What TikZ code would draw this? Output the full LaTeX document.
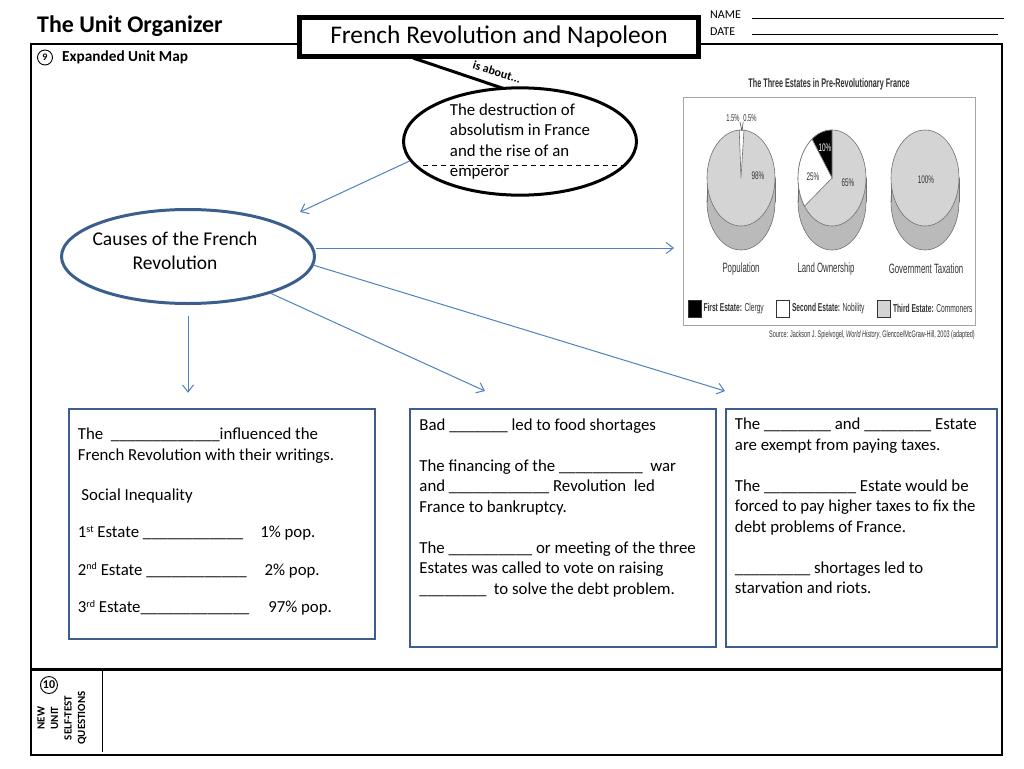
\documentclass[tikz,border=0pt]{standalone}
\usepackage{fontspec}
\setmainfont{Carlito}
\newfontfamily\chartfont[FakeStretch=0.58]{Liberation Sans}
\usetikzlibrary{positioning,shapes.geometric,arrows.meta}

\definecolor{boxblue}{HTML}{3B5E8C}
\definecolor{arrowblue}{HTML}{4F81BD}
\definecolor{pietop}{HTML}{D4D4D4}
\definecolor{pieside}{HTML}{BABABA}
\definecolor{piegrey}{HTML}{707070}
\definecolor{chartgray}{HTML}{333333}

\newcommand{\blank}[1]{\foreach \n in {1,...,#1}{\_}}
\newcommand{\ordsup}[1]{\raisebox{5.5pt}{\fontsize{10}{10}\selectfont #1}}

\begin{document}
\begin{tikzpicture}[
    x=1pt, y=-1pt,
    txt/.style={
        inner sep=0pt, align=left,
        font=\fontsize{16.8}{20.5}\selectfont
    },
    mapbox/.style={
        rectangle, draw=boxblue, line width=2.5pt, inner sep=0pt
    },
    arr/.style={-{Straight Barb[length=7pt,width=11pt]}, arrowblue, line width=1pt},
    num/.style={
        circle, draw, line width=0.9pt, inner sep=0pt,
        minimum size=15pt, font=\bfseries\fontsize{10}{10}\selectfont
    },
    chart/.style={inner sep=0pt, text=chartgray, font=\chartfont\fontsize{11}{11}\selectfont},
    pielabel/.style={chart, font=\chartfont\fontsize{13.5}{14}\selectfont},
    legendsq/.style={draw=chartgray, line width=0.6pt, minimum width=13pt, minimum height=17pt, inner sep=0pt},
    legendtext/.style={chart, font=\chartfont\fontsize{11.5}{12}\selectfont}
]

\useasboundingbox (0,0) rectangle (1024,768);

\draw[line width=2.5pt] (31,44) rectangle (1002,755);
\draw[line width=3pt] (31,669) -- (1002,669);
\draw[line width=1pt] (102,669) -- (102,752);

\node[anchor=base west, inner sep=0pt, font=\bfseries\fontsize{23.9}{26}\selectfont] (organizer) at (37,33) {The Unit Organizer};
\node[draw, line width=5pt, fill=white, minimum width=399pt, minimum height=39pt, inner sep=0pt,
      font=\fontsize{25.4}{28}\selectfont] (unit) at (499,37) {French Revolution and Napoleon};

\node[anchor=base west, inner sep=0pt, font=\fontsize{12}{12}\selectfont] (name) at (710,19) {NAME};
\node[anchor=base west, inner sep=0pt, font=\fontsize{12}{12}\selectfont] (date) at (710,36) {DATE};
\draw[line width=0.8pt] (752,18) -- (1004,18);
\draw[line width=0.8pt] (752,34) -- (998,34);

\node[num] (n9) at (45,57.5) {9};
\node[right=9pt of n9, inner sep=0pt, font=\bfseries\fontsize{15.3}{16}\selectfont] (mapname) {Expanded Unit Map};

\coordinate (tail) at (413,58);
\draw[line width=3pt] (tail) -- (508,90);
\node[rotate=-17, inner sep=0pt, font=\bfseries\fontsize{12}{12}\selectfont] (about) at (497,72) {is about...};

\node[txt, ellipse, draw, line width=3pt, fill=white, minimum width=233pt, minimum height=104pt] (destr) at (520,141.5)
    {The destruction of\\absolutism in France\\and the rise of an\\emperor};
\draw[dashed, dash pattern=on 5pt off 4pt, line width=0.8pt] (423,165) -- (622,165);

\node[ellipse, draw=boxblue, line width=3pt, minimum width=253pt, minimum height=94pt, inner sep=0pt] (causes) at (188,256.5) {};
\node[align=center, inner sep=0pt, font=\fontsize{19.5}{24}\selectfont] (causestext) at (175,251) {Causes of the French\\Revolution};

\node[draw=gray!70, line width=0.8pt, minimum width=292pt, minimum height=228pt, inner sep=0pt] (chartbox) at (829,211) {};
\node[chart, font=\chartfont\bfseries\fontsize{12.5}{13}\selectfont] (charttitle) at (829,84) {The Three Estates in Pre-Revolutionary France};

\coordinate (popu) at (741,178);
\coordinate (land) at (832,178);
\coordinate (taxes) at (925,178);
\foreach \piename in {popu,land,taxes}{
    \fill[pieside, draw=piegrey, line width=0.6pt] ([yshift=-24pt]\piename) ellipse[x radius=34pt, y radius=48pt];
    \fill[pieside] ([xshift=-34pt]\piename) rectangle ([xshift=34pt,yshift=-24pt]\piename);
    \draw[piegrey, line width=0.6pt] ([xshift=-34pt]\piename) -- ([xshift=-34pt,yshift=-24pt]\piename)
        ([xshift=34pt]\piename) -- ([xshift=34pt,yshift=-24pt]\piename);
    \fill[pietop, draw=piegrey, line width=0.6pt] (\piename) ellipse[x radius=34pt, y radius=48pt];
}
\filldraw[fill=white, draw=piegrey, line width=0.6pt] (popu) -- ++(85:34pt and 48pt)
    arc[start angle=85, end angle=93, x radius=34pt, y radius=48pt] -- cycle;
\filldraw[fill=black, draw=piegrey, line width=0.6pt] (land) -- ++(90:34pt and 48pt)
    arc[start angle=90, end angle=126, x radius=34pt, y radius=48pt] -- cycle;
\filldraw[fill=white, draw=piegrey, line width=0.6pt] (land) -- ++(126:34pt and 48pt)
    arc[start angle=126, end angle=216, x radius=34pt, y radius=48pt] -- cycle;

\node[chart, font=\chartfont\fontsize{10}{10}\selectfont] (pct15) at (733,118) {1.5\%};
\node[chart, font=\chartfont\fontsize{10}{10}\selectfont] (pct05) at (750,118) {0.5\%};
\coordinate (slivertop) at (742,131);
\draw[chartgray, line width=0.5pt] (pct15.south east) -- (slivertop);
\draw[chartgray, line width=0.5pt] (pct05.south west) -- (slivertop);
\node[chart] (p98) at (758,176) {98\%};
\node[chart, text=white] (p10) at (825,148) {10\%};
\node[chart] (p25) at (813,177) {25\%};
\node[chart] (p65) at (848,183) {65\%};
\node[chart] (p100) at (926,180) {100\%};

\node[pielabel] (poplabel) at (741,269) {Population};
\node[pielabel] (landlabel) at (826,269) {Land Ownership};
\node[pielabel] (taxlabel) at (926,269) {Government Taxation};

\node[legendsq, fill=black] (sq1) at (694.5,308.5) {};
\node[legendtext, right=2pt of sq1] (leg1) {\textbf{First Estate:} Clergy};
\node[legendsq, fill=white] (sq2) at (783,308.5) {};
\node[legendtext, right=2pt of sq2] (leg2) {\textbf{Second Estate:} Nobility};
\node[legendsq, fill=pietop] (sq3) at (884,308.5) {};
\node[legendtext, right=2pt of sq3] (leg3) {\textbf{Third Estate:} Commoners};

\node[chart, anchor=east, font=\chartfont\fontsize{9.5}{10}\selectfont] (source) at (975,335)
    {Source: Jackson J. Spielvogel, \textit{World History}, Glencoe/McGraw-Hill, 2003 (adapted)};

\node[mapbox, minimum width=306pt, minimum height=230pt] (box1) at (222,524) {};
\node[mapbox, minimum width=306pt, minimum height=238pt] (box2) at (563,528) {};
\node[mapbox, minimum width=271pt, minimum height=238pt] (box3) at (861.5,528) {};

\node[txt, below right=20pt and 10pt of box1.north west] (text1)
    {The~~\blank{13}influenced the\\French Revolution with their writings.\\[19.5pt]
     \hspace*{3.5pt}Social Inequality\\[17pt]
     1\ordsup{st} Estate \blank{12}\hspace{17pt}1\% pop.\\[17pt]
     2\ordsup{nd} Estate \blank{12}\hspace{18pt}2\% pop.\\[17pt]
     3\ordsup{rd} Estate\blank{13}\hspace{19pt}97\% pop.};
\node[txt, below right=10.5pt and 10.5pt of box2.north west] (text2)
    {Bad \blank{7} led to food shortages\\[20.5pt]
     The financing of the \blank{10}~~war\\and \blank{12} Revolution~~led\\France to bankruptcy.\\[20.5pt]
     The \blank{10} or meeting of the three\\Estates was called to vote on raising\\
     \blank{8}~~to solve the debt problem.};
\node[txt, below right=10pt and 10pt of box3.north west] (text3)
    {The \blank{8} and \blank{8} Estate\\are exempt from paying taxes.\\[20.5pt]
     The \blank{11} Estate would be\\forced to pay higher taxes to fix the\\debt problems of France.\\[20.5pt]
     \blank{9} shortages led to\\starvation and riots.};

\coordinate (tip0) at (300,212);
\coordinate (tipchart) at (674,248);
\coordinate (tip2) at (485,391);
\coordinate (tip3) at (725,391);
\draw[arr] (destr.190) -- (tip0);
\draw[arr] (causes.east |- tipchart) -- (tipchart);
\draw[arr, shorten <=11pt, shorten >=15pt] (causes.south) -- (causes.south |- box1.north);
\draw[arr] (causes.-24) -- (tip2);
\draw[arr] (causes.-4) -- (tip3);

\node[num, minimum size=17pt, font=\bfseries\fontsize{12}{12}\selectfont] (n10) at (49,685) {10};
\node[rotate=90, align=center, inner sep=0pt, font=\bfseries\fontsize{11}{13.5}\selectfont] (selftest) at (62,718)
    {NEW\\UNIT\\SELF-TEST\\QUESTIONS};

\end{tikzpicture}
\end{document}
